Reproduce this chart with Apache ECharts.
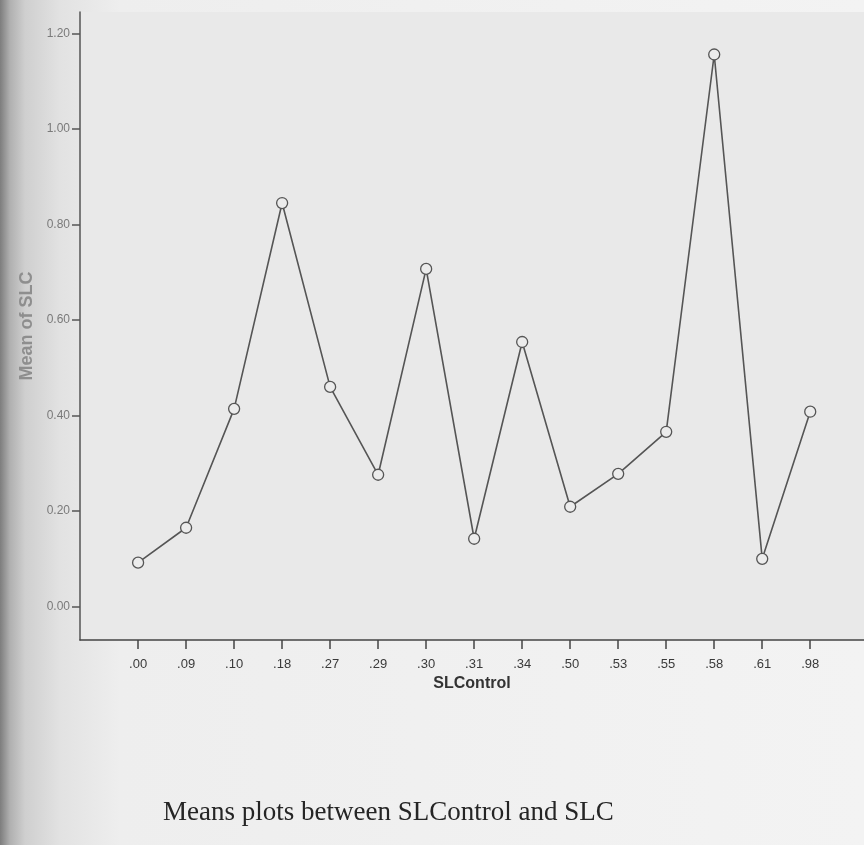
<!DOCTYPE html>
<html>
<head>
<meta charset="utf-8">
<script src="https://cdn.jsdelivr.net/npm/echarts@6/dist/echarts.min.js"></script>
<style>
html,body{margin:0;padding:0;}
body{width:864px;height:845px;overflow:hidden;
background:linear-gradient(to right,#7d7d7d 0px,#b0b0b0 10px,#cfcfcf 25px,#e2e2e2 60px,#eeeeee 120px,#f3f3f3 100%);}
#chart{width:864px;height:845px;}
</style>
</head>
<body>
<div id="chart"></div>
<script>
// Data
const categories = ['.00','.09','.10','.18','.27','.29','.30','.31','.34','.50','.53','.55','.58','.61','.98'];
const meanSLC = [0.092,0.165,0.414,0.845,0.460,0.276,0.707,0.142,0.554,0.209,0.278,0.366,1.156,0.100,0.408];
const yTicks = [0,0.2,0.4,0.6,0.8,1.0,1.2];
const xTickIdx = categories.map((c,i)=>i);

const chart = echarts.init(document.getElementById('chart'), null, {renderer:'canvas'});
chart.setOption({
  backgroundColor:'transparent',
  animation:false,
  title:{
    text:'Means plots between SLControl and SLC',
    left:158, top:794,
    textStyle:{fontFamily:'Liberation Serif',fontWeight:'normal',fontSize:27,color:'#252525'}
  },
  grid:{left:80,right:0,top:12,bottom:205,show:true,backgroundColor:'#e9e9e9',borderWidth:0},
  xAxis:{
    type:'value',
    min:-1.21, max:15.12,
    name:'SLControl',
    nameLocation:'middle',
    nameGap:36,
    nameTextStyle:{fontFamily:'Liberation Sans',fontWeight:'bold',fontSize:16,color:'#333'},
    axisLine:{show:true,onZero:false,lineStyle:{color:'#444',width:1.5}},
    axisTick:{show:true,customValues:xTickIdx,length:9,lineStyle:{color:'#444',width:1.5}},
    axisLabel:{show:true,customValues:xTickIdx,margin:18,fontFamily:'Liberation Sans Narrow, Liberation Sans',fontSize:13,color:'#3a3a3a',
      formatter:v=>categories[Math.round(v)]},
    splitLine:{show:false}
  },
  yAxis:{
    type:'value',
    min:-0.07, max:1.245,
    name:'Mean of SLC',
    nameLocation:'middle',
    nameGap:42,
    nameRotate:90,
    nameTextStyle:{fontFamily:'Liberation Sans',fontWeight:'bold',fontSize:18,color:'#8e8e8e'},
    axisLine:{show:true,onZero:false,lineStyle:{color:'#555',width:1.5}},
    axisTick:{show:true,customValues:yTicks,length:8,lineStyle:{color:'#555',width:1.5}},
    axisLabel:{show:true,customValues:yTicks,margin:10,fontFamily:'Liberation Sans',fontSize:12,color:'#7a7a7a',
      formatter:v=>v.toFixed(2)},
    splitLine:{show:false}
  },
  series:[{
    type:'line',
    data:meanSLC.map((v,i)=>[i,v]),
    symbol:'circle',
    symbolSize:11,
    itemStyle:{color:'#ececec',borderColor:'#555',borderWidth:1.3},
    lineStyle:{color:'#555',width:1.6}
  }]
});
</script>
</body>
</html>
